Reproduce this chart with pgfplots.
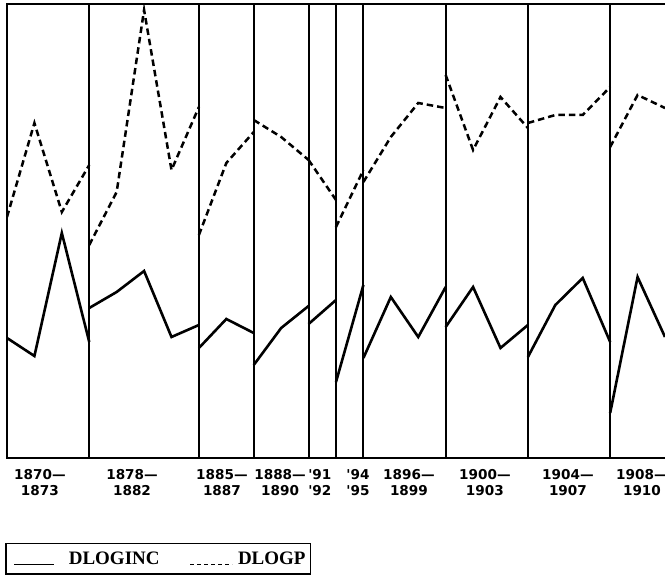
\documentclass[border=0pt]{standalone}
\usepackage{pgfplots}
\pgfplotsset{compat=1.18}
\usepackage{fontspec}
\setmainfont{Liberation Serif}
\newfontfamily\yearfont{DejaVu Sans}
\begin{document}
\begin{tikzpicture}[x=1pt,y=1pt]
\useasboundingbox (-7,-125) rectangle (658,458);
\begin{axis}[
  at={(0,0)}, anchor=south west,
  scale only axis, width=658pt, height=454pt,
  xmin=0, xmax=24, ymin=0, ymax=454,
  axis line style={draw=none},
  ytick=\empty,
  xtick={3,7,9,11,12,13,16,19,22},
  xticklabels={},
  xmajorgrids,
  major grid style={black, line width=2pt},
  major tick length=0pt,
  extra x ticks={1.2,4.56,7.84,9.96,11.41,12.8,14.66,17.43,20.46,23.16},
  extra x tick labels={{1870—\\1873},{1878—\\1882},{1885—\\1887},{1888—\\1890},{'91\\'92},{'94\\'95},{1896—\\1899},{1900—\\1903},{1904—\\1907},{1908—\\1910}},
  extra x tick style={grid=none, major tick length=0pt,
    tick label style={align=center, font=\yearfont\bfseries\fontsize{13.6}{15.5}\selectfont, yshift=-8pt}},
  unbounded coords=jump,
  legend columns=2,
  legend style={at={(-0.003,-0.187)}, anchor=north west, draw=black, line width=1.6pt,
    font=\bfseries\fontsize{19}{22}\selectfont, inner xsep=3pt, inner ysep=6pt,
    /tikz/column 1/.style={column sep=12pt},
    /tikz/column 2/.style={column sep=28pt},
    /tikz/column 3/.style={column sep=3pt}},
]
\addplot[black, line width=2.6pt, line join=miter,
  legend image code/.code={\path (0pt,0pt); \draw[black, line width=1.4pt] (4pt,-6pt) -- (44pt,-6pt);}]
coordinates {
(0,120) (1,102) (2,225) (3,116) (3,nan)
(3,150) (4,166) (5,187) (6,121) (7,133) (7,nan)
(7,110) (8,139) (9,125) (9,nan)
(9,93) (10,130) (11,152) (11,nan)
(11,134) (12,158) (12,nan)
(12,76) (13,173) (13,nan)
(13,100) (14,161) (15,121) (16,171) (16,nan)
(16,131) (17,171) (18,110) (19,133) (19,nan)
(19,101) (20,153) (21,180) (22,116) (22,nan)
(22,45) (23,181) (24,121)
};
\addlegendentry{DLOGINC}
\addplot[black, line width=2.5pt, dash pattern=on 6.5pt off 4pt,
  legend image code/.code={\draw[black, line width=1.4pt, dash pattern=on 4pt off 3pt] (0pt,-6pt) -- (42pt,-6pt);}]
coordinates {
(0,241) (1,335) (2,246) (3,293) (3,nan)
(3,213) (4,266) (5,448) (6,288) (7,351) (7,nan)
(7,223) (8,295) (9,326) (9,nan)
(9,338) (10,321) (11,298) (11,nan)
(11,298) (12,258) (12,nan)
(12,231) (13,288) (13,nan)
(13,276) (14,321) (15,355) (16,350) (16,nan)
(16,383) (17,308) (18,361) (19,330) (19,nan)
(19,335) (20,343) (21,343) (22,371) (22,nan)
(22,311) (23,363) (24,350)
};
\addlegendentry{DLOGP}
\end{axis}
\draw[line width=2.8pt] (660,454) -- (0,454) -- (0,0) -- (660,0);
\end{tikzpicture}
\end{document}
